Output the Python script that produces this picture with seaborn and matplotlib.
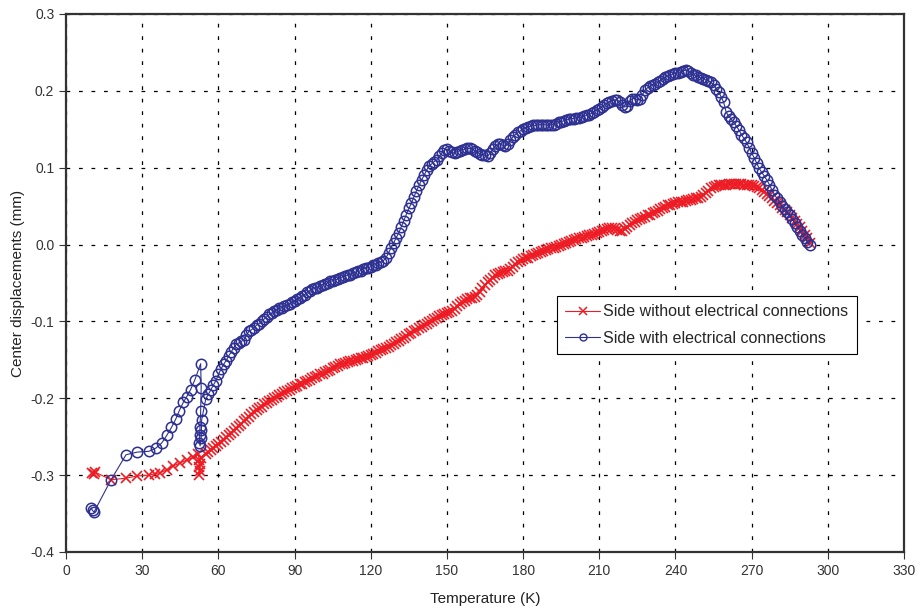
import matplotlib
matplotlib.use("Agg")
import matplotlib.pyplot as plt
import seaborn as sns
from matplotlib.lines import Line2D
from matplotlib.ticker import FixedLocator, FuncFormatter

# Side with electrical connections (blue, circles)
blue_temp = [
    9.8, 10.4, 11.0, 17.7, 23.6, 28.1, 32.6, 35.3, 37.7, 39.7, 41.5, 43.2, 44.6, 46.2, 47.5, 49.0, 50.7,
    53.0, 53.2, 53.0, 52.7, 52.6, 52.5, 52.8, 53.2, 53.3, 53.4,
    55, 56, 57, 58, 59, 60, 61, 62, 63, 64, 65, 66, 67, 68, 69, 70, 71, 72, 73, 74, 75, 76, 77, 78, 79,
    80, 81, 82, 83, 84, 85, 86, 87, 88, 89, 90, 91, 92, 93, 94, 95, 96, 97, 98, 99, 100, 101, 102, 103,
    104, 105, 106, 107, 108, 109, 110, 111, 112, 113, 114, 115, 116, 117, 118, 119, 120, 121, 122, 123,
    124, 125, 126, 127, 128, 129, 130, 131, 132, 133, 134, 135, 136, 137, 138, 139, 140, 141, 142, 143,
    144, 145, 146, 147, 148, 149, 150, 151, 152, 153, 154, 155, 156, 157, 158, 159, 160, 161, 162, 163,
    164, 165, 166, 167, 168, 169, 170, 171, 172, 173, 174, 175, 176, 177, 178, 179, 180, 181, 182, 183,
    184, 185, 186, 187, 188, 189, 190, 191, 192, 193, 194, 195, 196, 197, 198, 199, 200, 201, 202, 203,
    204, 205, 206, 207, 208, 209, 210, 211, 212, 213, 214, 215, 216, 217, 218, 219, 220, 221, 222, 223,
    224, 225, 226, 227, 228, 229, 230, 231, 232, 233, 234, 235, 236, 237, 238, 239, 240, 241, 242, 243,
    244, 245, 246, 247, 248, 249, 250, 251, 252, 253, 254, 255, 256, 257, 258, 259, 260, 261, 262, 263,
    264, 265, 266, 267, 268, 269, 270, 271, 272, 273, 274, 275, 276, 277, 278, 279, 280, 281, 282, 283,
    284, 285, 286, 287, 288, 289, 290, 291, 292, 293,
]
blue_disp = [
    -0.343, -0.346, -0.348, -0.306, -0.2735, -0.270, -0.269, -0.265, -0.258, -0.248, -0.238, -0.227,
    -0.216, -0.205, -0.198, -0.189, -0.176,
    -0.155, -0.186, -0.217, -0.238, -0.248, -0.258, -0.262, -0.252, -0.241, -0.228,
    -0.201, -0.195, -0.189, -0.183, -0.177, -0.169, -0.162, -0.156, -0.151, -0.145, -0.140, -0.134,
    -0.130, -0.128, -0.126, -0.124, -0.118, -0.113, -0.111, -0.108, -0.105, -0.103, -0.100, -0.097,
    -0.094, -0.091, -0.089, -0.087, -0.085, -0.083, -0.082, -0.080, -0.079, -0.077, -0.075, -0.073,
    -0.071, -0.069, -0.067, -0.065, -0.062, -0.060, -0.058, -0.057, -0.056, -0.054, -0.052, -0.051,
    -0.050, -0.048, -0.047, -0.046, -0.045, -0.043, -0.042, -0.041, -0.040, -0.039, -0.037, -0.036,
    -0.035, -0.034, -0.032, -0.031, -0.030, -0.029, -0.027, -0.026, -0.024, -0.023, -0.021, -0.017,
    -0.011, -0.004, 0.002, 0.009, 0.015, 0.023, 0.031, 0.039, 0.047, 0.054, 0.062, 0.070, 0.077, 0.084,
    0.090, 0.097, 0.102, 0.105, 0.108, 0.110, 0.115, 0.119, 0.123, 0.124, 0.122, 0.120, 0.119, 0.121,
    0.122, 0.123, 0.124, 0.125, 0.125, 0.124, 0.122, 0.120, 0.118, 0.117, 0.116, 0.115, 0.119, 0.124,
    0.128, 0.131, 0.131, 0.129, 0.128, 0.131, 0.136, 0.140, 0.143, 0.146, 0.148, 0.150, 0.152, 0.153,
    0.154, 0.155, 0.155, 0.156, 0.156, 0.156, 0.156, 0.155, 0.156, 0.156, 0.157, 0.159, 0.160, 0.161,
    0.162, 0.163, 0.164, 0.164, 0.165, 0.165, 0.166, 0.167, 0.168, 0.169, 0.171, 0.173, 0.175, 0.177,
    0.179, 0.182, 0.184, 0.186, 0.187, 0.188, 0.188, 0.186, 0.182, 0.179, 0.180, 0.187, 0.190, 0.190,
    0.188, 0.189, 0.195, 0.201, 0.204, 0.206, 0.208, 0.209, 0.211, 0.213, 0.216, 0.218, 0.219, 0.220,
    0.222, 0.223, 0.223, 0.224, 0.226, 0.227, 0.226, 0.223, 0.221, 0.220, 0.218, 0.217, 0.216, 0.214,
    0.213, 0.211, 0.208, 0.203, 0.199, 0.192, 0.185, 0.172, 0.167, 0.163, 0.159, 0.154, 0.149, 0.143,
    0.138, 0.133, 0.126, 0.119, 0.113, 0.106, 0.099, 0.094, 0.089, 0.084, 0.078, 0.071, 0.065, 0.060,
    0.055, 0.050, 0.046, 0.042, 0.038, 0.033, 0.028, 0.023, 0.018, 0.013, 0.008, 0.003, -0.001,
]

# Side without electrical connections (red, crosses)
red_temp = [
    10.1, 10.8, 11.3, 17.7, 23.6, 28.1, 32.8, 35.1, 37.0, 39.7, 42.3, 44.9, 47.5, 50.1, 52.1,
    52.4, 52.5, 52.4, 52.6, 52.8, 53.0,
    55, 56, 57, 58, 59, 60, 61, 62, 63, 64, 65, 66, 67, 68, 69, 70, 71, 72, 73, 74, 75, 76, 77, 78, 79,
    80, 81, 82, 83, 84, 85, 86, 87, 88, 89, 90, 91, 92, 93, 94, 95, 96, 97, 98, 99, 100, 101, 102, 103,
    104, 105, 106, 107, 108, 109, 110, 111, 112, 113, 114, 115, 116, 117, 118, 119, 120, 121, 122, 123,
    124, 125, 126, 127, 128, 129, 130, 131, 132, 133, 134, 135, 136, 137, 138, 139, 140, 141, 142, 143,
    144, 145, 146, 147, 148, 149, 150, 151, 152, 153, 154, 155, 156, 157, 158, 159, 160, 161, 162, 163,
    164, 165, 166, 167, 168, 169, 170, 171, 172, 173, 174, 175, 176, 177, 178, 179, 180, 181, 182, 183,
    184, 185, 186, 187, 188, 189, 190, 191, 192, 193, 194, 195, 196, 197, 198, 199, 200, 201, 202, 203,
    204, 205, 206, 207, 208, 209, 210, 211, 212, 213, 214, 215, 216, 217, 218, 219, 220, 221, 222, 223,
    224, 225, 226, 227, 228, 229, 230, 231, 232, 233, 234, 235, 236, 237, 238, 239, 240, 241, 242, 243,
    244, 245, 246, 247, 248, 249, 250, 251, 252, 253, 254, 255, 256, 257, 258, 259, 260, 261, 262, 263,
    264, 265, 266, 267, 268, 269, 270, 271, 272, 273, 274, 275, 276, 277, 278, 279, 280, 281, 282, 283,
    284, 285, 286, 287, 288, 289, 290, 291, 292, 293,
]
red_disp = [
    -0.297, -0.298, -0.296, -0.306, -0.304, -0.301, -0.300, -0.298, -0.297, -0.293, -0.288, -0.284,
    -0.2805, -0.277, -0.273,
    -0.280, -0.290, -0.300, -0.295, -0.285, -0.278,
    -0.272, -0.270, -0.267, -0.265, -0.262, -0.260, -0.257, -0.254, -0.251, -0.248, -0.245, -0.242,
    -0.239, -0.236, -0.233, -0.230, -0.227, -0.224, -0.221, -0.218, -0.215, -0.213, -0.211, -0.208,
    -0.206, -0.204, -0.202, -0.200, -0.198, -0.196, -0.194, -0.192, -0.190, -0.189, -0.187, -0.185,
    -0.184, -0.182, -0.181, -0.179, -0.178, -0.176, -0.174, -0.172, -0.171, -0.169, -0.168, -0.166,
    -0.165, -0.163, -0.161, -0.159, -0.158, -0.156, -0.155, -0.154, -0.153, -0.152, -0.151, -0.150,
    -0.149, -0.148, -0.147, -0.146, -0.145, -0.144, -0.142, -0.141, -0.139, -0.137, -0.136, -0.134,
    -0.133, -0.131, -0.129, -0.127, -0.125, -0.123, -0.121, -0.119, -0.117, -0.115, -0.113, -0.111,
    -0.109, -0.107, -0.105, -0.103, -0.101, -0.099, -0.097, -0.095, -0.093, -0.092, -0.090, -0.089,
    -0.088, -0.087, -0.084, -0.080, -0.077, -0.075, -0.073, -0.071, -0.070, -0.069, -0.068, -0.066,
    -0.062, -0.057, -0.052, -0.049, -0.046, -0.043, -0.040, -0.038, -0.037, -0.036, -0.035, -0.034,
    -0.032, -0.029, -0.025, -0.023, -0.021, -0.019, -0.018, -0.017, -0.015, -0.014, -0.012, -0.011,
    -0.010, -0.009, -0.007, -0.006, -0.005, -0.004, -0.003, -0.002, 0.000, 0.001, 0.002, 0.003, 0.004,
    0.006, 0.007, 0.008, 0.009, 0.010, 0.011, 0.012, 0.013, 0.014, 0.015, 0.016, 0.017, 0.019, 0.020,
    0.021, 0.022, 0.021, 0.019, 0.018, 0.018, 0.020, 0.023, 0.026, 0.028, 0.030, 0.032, 0.033, 0.035,
    0.036, 0.038, 0.039, 0.041, 0.043, 0.044, 0.046, 0.048, 0.049, 0.051, 0.052, 0.053, 0.054, 0.055,
    0.056, 0.056, 0.057, 0.058, 0.058, 0.059, 0.060, 0.061, 0.062, 0.064, 0.067, 0.070, 0.073, 0.075,
    0.076, 0.077, 0.078, 0.078, 0.078, 0.079, 0.079, 0.079, 0.079, 0.079, 0.079, 0.078, 0.078, 0.078,
    0.077, 0.076, 0.075, 0.073, 0.071, 0.068, 0.066, 0.063, 0.060, 0.057, 0.054, 0.051, 0.048, 0.045,
    0.042, 0.039, 0.035, 0.031, 0.027, 0.023, 0.018, 0.013, 0.008, 0.002,
]

x_ticks = [0, 30, 60, 90, 120, 150, 180, 210, 240, 270, 300, 330]
y_ticks = [-0.4, -0.3, -0.2, -0.1, 0.0, 0.1, 0.2, 0.3]
red_label = "Side without electrical connections"
blue_label = "Side with electrical connections"

RED = "#ED1C24"
BLUE = "#2E3192"

sns.set_style("white")
plt.rcParams["font.family"] = ["Liberation Sans", "DejaVu Sans"]

fig = plt.figure(figsize=(9.18, 6.11), dpi=100)
ax = fig.add_axes([0.072, 0.0966, 0.9127, 0.8805])

sns.lineplot(x=red_temp, y=red_disp, sort=False, estimator=None, ax=ax,
             color=RED, linewidth=0.8, marker="x", markersize=7.5,
             markeredgewidth=1.2, markeredgecolor=RED, zorder=3)
sns.lineplot(x=blue_temp, y=blue_disp, sort=False, estimator=None, ax=ax,
             color=BLUE, linewidth=0.8, marker="o", markersize=7.5,
             markerfacecolor="none", markeredgewidth=1.1, markeredgecolor=BLUE, zorder=4)

ax.set_xlim(0, 330)
ax.set_ylim(-0.4, 0.3)
ax.xaxis.set_major_locator(FixedLocator(x_ticks))
ax.yaxis.set_major_locator(FixedLocator(y_ticks))
ax.yaxis.set_major_formatter(FuncFormatter(lambda v, p: f"{v:.1f}".replace("-0.0", "0.0")))

ax.grid(True, color="black", linestyle=(0, (3, 7)), linewidth=0.9)
ax.set_axisbelow(True)
for side in ["left", "bottom", "top", "right"]:
    ax.spines[side].set_visible(True)
    ax.spines[side].set_color("#333333")
    ax.spines[side].set_linewidth(1.6)

ax.tick_params(axis="both", direction="out", length=5, width=0.8, color="#333333",
               labelsize=10, labelcolor="#333333", bottom=True, left=True)
ax.set_xlabel("Temperature (K)", fontsize=11, color="#222222", labelpad=10)
ax.set_ylabel("Center displacements (mm)", fontsize=11, color="#222222", labelpad=4)

handles = [
    Line2D([], [], color=RED, linewidth=0.8, marker="x", markersize=6, markeredgewidth=1.1),
    Line2D([], [], color=BLUE, linewidth=0.8, marker="o", markersize=5,
           markerfacecolor="none", markeredgewidth=1.0),
]
leg = ax.legend(handles, [red_label, blue_label], loc="upper left",
                bbox_to_anchor=(0.586, 0.475), fontsize=11.5, frameon=True,
                fancybox=False, framealpha=1, edgecolor="black",
                handlelength=2.2, handletextpad=0.2, borderpad=0.5, labelspacing=0.7,
                borderaxespad=0)
leg.get_frame().set_linewidth(0.8)

fig.savefig("out.png", dpi=100)
